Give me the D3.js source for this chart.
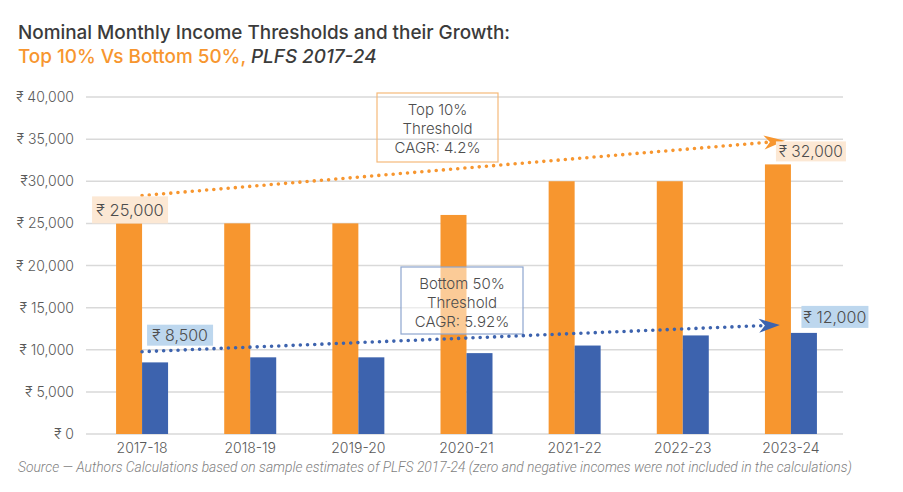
<!DOCTYPE html>
<html><head><meta charset="utf-8">
<script src="https://cdn.jsdelivr.net/npm/d3@7"></script>
<style>
body{margin:0;background:#fff;}
svg{display:block;font-family:Inter,"Noto Sans",sans-serif;}
</style></head>
<body><svg id="c" width="903" height="492"></svg>
<script>
const categories = ["2017-18","2018-19","2019-20","2020-21","2021-22","2022-23","2023-24"];
const top10 = [25000,25000,25000,26000,30000,30000,32000];
const bottom50 = [8500,9100,9100,9600,10500,11700,12000];
const yTicks = [0,5000,10000,15000,20000,25000,30000,35000,40000];
const yTickLabels = ["₹ 0","₹ 5,000","₹ 10,000","₹ 15,000","₹ 20,000","₹ 25,000","₹30,000","₹ 35,000","₹ 40,000"];
const topTrend = [28300, 34800];
const bottomTrend = [9770, 12950];
const topLabels = ["₹ 25,000","₹ 32,000"];
const bottomLabels = ["₹ 8,500","₹ 12,000"];
const topNote = ["Top 10%","Threshold","CAGR: 4.2%"];
const bottomNote = ["Bottom 50%","Threshold","CAGR: 5.92%"];

const ORANGE="#F7962F", BLUE="#3D63AE", GRID="#d9d9d9", TXT="#595959";
const svg = d3.select("#c");
const x = d3.scaleBand().domain(categories).range([86,843]);
const y = d3.scaleLinear().domain([0,40000]).range([434,97]);
const bw = 26;
const cx = c => x(c)+x.bandwidth()/2+2;

// title
const t = svg.append("text").attr("x",18).attr("y",39).attr("font-size",18.9).attr("font-weight",500).attr("fill","#3b3b3b");
t.text("Nominal Monthly Income Thresholds and their Growth:");
const t2 = svg.append("text").attr("x",18).attr("y",63).attr("font-size",18.9).attr("font-weight",500);
t2.append("tspan").attr("fill",ORANGE).text("Top 10% Vs Bottom 50%, ");
t2.append("tspan").attr("fill","#3b3b3b").attr("font-style","italic").text("PLFS 2017-24");

// grid
svg.append("g").selectAll("line").data(yTicks).join("line")
 .attr("x1",86).attr("x2",843).attr("y1",d=>y(d)).attr("y2",d=>y(d))
 .attr("stroke",GRID).attr("stroke-width",1.5);
// y labels
svg.append("g").selectAll("text").data(yTicks).join("text")
 .attr("x",74).attr("y",d=>y(d)+5).attr("text-anchor","end").attr("font-size",14).attr("font-weight",300).attr("fill",TXT)
 .text((d,i)=>yTickLabels[i]);
// x labels
svg.append("g").selectAll("text").data(categories).join("text")
 .attr("x",c=>cx(c)).attr("y",453).attr("text-anchor","middle").attr("font-size",14).attr("font-weight",300).attr("fill",TXT).text(c=>c);

// bars
svg.append("g").selectAll("rect").data(categories).join("rect")
 .attr("x",c=>cx(c)-bw).attr("width",bw).attr("y",(c,i)=>y(top10[i])).attr("height",(c,i)=>y(0)-y(top10[i])).attr("fill",ORANGE);
svg.append("g").selectAll("rect").data(categories).join("rect")
 .attr("x",c=>cx(c)).attr("width",bw).attr("y",(c,i)=>y(bottom50[i])).attr("height",(c,i)=>y(0)-y(bottom50[i])).attr("fill",BLUE);

const first = categories[0], last = categories[categories.length-1];
function trend(vals,col,endOff){
 const x1=cx(first), x2=cx(last)+endOff, y1=y(vals[0]), y2=y(vals[1]);
 const at = xx => y1+(y2-y1)*((xx-x1)/(x2-x1));
 svg.append("line").attr("x1",x1).attr("y1",y1).attr("x2",x2-14).attr("y2",at(x2-14))
  .attr("stroke",col).attr("stroke-width",3.6).attr("stroke-linecap","round").attr("stroke-dasharray","0 7.2");
 const ang=Math.atan2(y2-y1,x2-x1);
 const p=[[0,0],[-21,-7],[-15,0],[-21,7]].map(([a,b])=>[x2+a*Math.cos(ang)-b*Math.sin(ang), y2+a*Math.sin(ang)+b*Math.cos(ang)]);
 svg.append("path").attr("d","M"+p.map(q=>q.join(",")).join("L")+"Z").attr("fill",col);
}

// note boxes
function note(lines,x0,y0,w,h,stroke,fill,fo){
 svg.append("rect").attr("x",x0).attr("y",y0).attr("width",w).attr("height",h).attr("fill",fill).attr("fill-opacity",fo).attr("stroke",stroke).attr("stroke-width",1.2);
 svg.append("g").selectAll("text").data(lines).join("text").attr("x",x0+w/2).attr("y",(d,i)=>y0+22+i*18.8)
  .attr("text-anchor","middle").attr("font-size",15).attr("font-weight",300).attr("fill","#4d4d4d").text(d=>d);
}
note(topNote,377,93,121,69,"#F5B97A","#fff",0);
note(bottomNote,401,267,122,67,"#8EA6CF","#fff",0.5);

trend(topTrend,ORANGE,-6);
trend(bottomTrend,BLUE,-11);

// value labels
function vlabel(txt,xc,yb,w,h,fill,fs){
 svg.append("rect").attr("x",xc-w/2).attr("y",yb-h).attr("width",w).attr("height",h).attr("fill",fill);
 svg.append("text").attr("x",xc).attr("y",yb-h/2+fs*0.36).attr("text-anchor","middle").attr("font-size",fs).attr("font-weight",300).attr("fill","#4d4d4d").text(txt);
}
vlabel(topLabels[0],cx(first)-12,y(top10[0]),76,27,"#FCE8D4",16.5);
vlabel(topLabels[1],cx(last)+20,y(top10[6])-3,70,20,"#FCE8D4",15.5);
vlabel(bottomLabels[0],cx(first)+38,y(bottomTrend[0])-6,66,21,"#BDD7EE",16);
vlabel(bottomLabels[1],cx(last)+44,y(bottom50[6])-5,67,22,"#BDD7EE",16);

// source
svg.append("text").attr("x",18).attr("y",472).attr("font-family","Roboto").attr("font-style","italic").attr("font-weight",300)
 .attr("font-size",13.85).attr("fill","#7f7f7f")
 .text("Source — Authors Calculations based on sample estimates of PLFS 2017-24 (zero and negative incomes were not included in the calculations)");
</script></body></html>
